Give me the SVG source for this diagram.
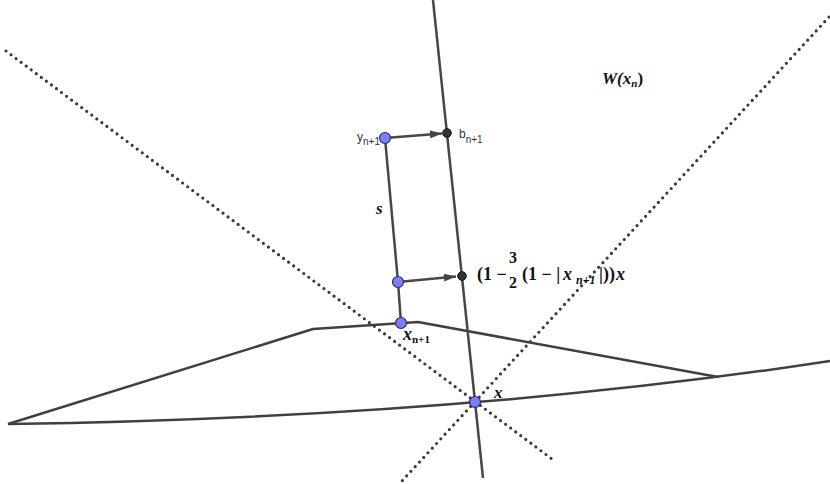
<svg xmlns="http://www.w3.org/2000/svg" width="830" height="484" viewBox="0 0 830 484">
<defs>
<style>
.dot{fill:none;stroke:#3a3a3a;stroke-width:3.2;stroke-dasharray:0 6.3;stroke-linecap:round}
.ln{fill:none;stroke:#404040;stroke-width:2.5;stroke-linejoin:round}
.seg{fill:none;stroke:#474747;stroke-width:2.5}
.bp{fill:#7b7ff2;stroke:#2c2c6e;stroke-width:1.2}
.dp{fill:#333;stroke:#111;stroke-width:1}
.sans{font-family:"Liberation Sans",Arial,sans-serif;fill:#333}
.math{font-family:"Liberation Serif","Times New Roman",serif;font-weight:bold;fill:#111}
.it{font-style:italic}
</style>
<marker id="ah" viewBox="0 0 12 8" refX="12" refY="4" markerWidth="12" markerHeight="8" markerUnits="userSpaceOnUse" orient="auto">
<path d="M0,0 L12,4 L0,8 Z" fill="#444"/>
</marker>
</defs>
<rect width="830" height="484" fill="#fff"/>
<g id="connectors">
<line class="dot" x1="6" y1="51" x2="556" y2="462"/>
<line class="dot" x1="829" y1="17" x2="402" y2="481"/>
<path class="ln" d="M8,424 Q461,417.5 830,361"/>
<polyline class="ln" points="8,424 313,329 418,322 718,377"/>
<line class="seg" x1="433" y1="0" x2="483" y2="478"/>
<polyline class="seg" points="385,138 398,282 401,323"/>
<line class="seg" x1="385" y1="138" x2="442" y2="133.4" marker-end="url(#ah)"/>
<line class="seg" x1="398" y1="282" x2="456" y2="276.5" marker-end="url(#ah)"/>
</g>
<g id="node-b">
<circle class="dp" cx="447" cy="133" r="4.3"/>
<text class="sans" x="459" y="138" font-size="12">b<tspan font-size="10" dy="5">n+1</tspan></text>
</g>
<g id="node-y">
<circle class="bp" cx="385" cy="138" r="5.5"/>
<text class="sans" x="357" y="141" font-size="12">y<tspan font-size="10" dy="4">n+1</tspan></text>
</g>
<g id="label-s">
<text class="math it" x="376" y="214" font-size="17">s</text>
</g>
<g id="node-mid">
<circle class="bp" cx="398" cy="282" r="5.5"/>
</g>
<g id="node-formula">
<circle class="dp" cx="462" cy="276" r="4.3"/>
<text class="math" x="477" y="280" font-size="18">(1 −</text>
<text class="math" x="513" y="263" font-size="16" text-anchor="middle">3</text>
<text class="math" x="513" y="288" font-size="16" text-anchor="middle">2</text>
<text class="math" x="522" y="280" font-size="18">(1 − |</text>
<text class="math it" x="563" y="280" font-size="18">x</text>
<text class="math it" x="576" y="284" font-size="12">n+1</text>
<text class="math" x="599" y="280" font-size="18">|))</text>
<text class="math it" x="616" y="280" font-size="18">x</text>
</g>
<g id="node-xn1">
<circle class="bp" cx="401" cy="323" r="5.5"/>
<text class="math it" x="403" y="340" font-size="18">x<tspan font-size="11" dy="3" font-style="normal">n+1</tspan></text>
</g>
<g id="node-x">
<circle class="bp" cx="475" cy="402" r="5.5"/>
<text class="math it" x="494" y="398" font-size="17">x</text>
</g>
<g id="label-W">
<text class="math it" x="602" y="84" font-size="17">W(x<tspan font-size="11" dy="3">n</tspan><tspan dy="-3" font-style="normal">)</tspan></text>
</g>
</svg>
